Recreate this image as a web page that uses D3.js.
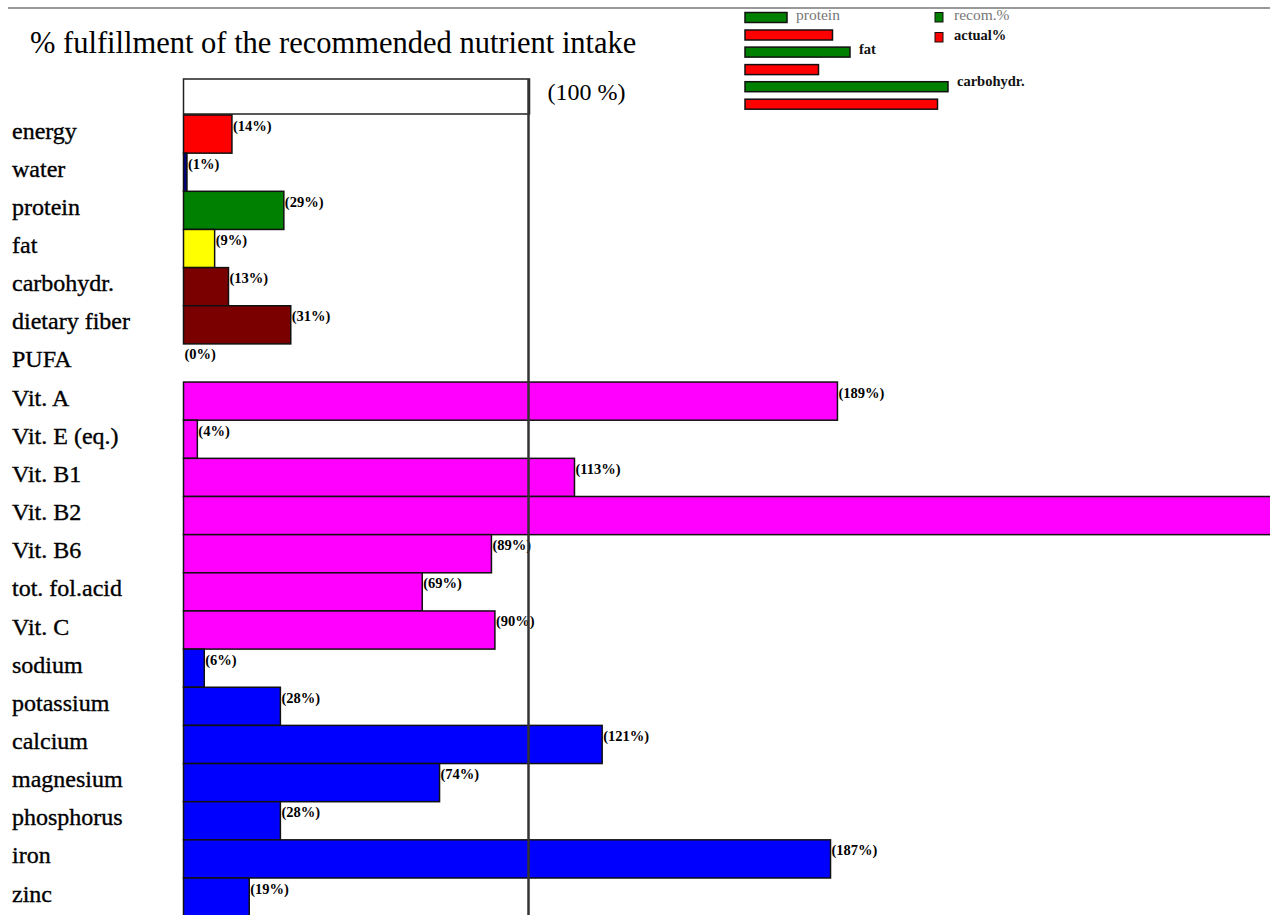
<!DOCTYPE html>
<html>
<head>
<meta charset="utf-8">
<script src="https://cdn.jsdelivr.net/npm/d3@7"></script>
<style>
  body { margin: 0; background: #fff; }
  svg { display: block; }
</style>
</head>
<body>
<div id="chart"></div>
<script>
// nutrients and % fulfillment
var nutrients = ['energy', 'water', 'protein', 'fat', 'carbohydr.', 'dietary fiber', 'PUFA',
  'Vit. A', 'Vit. E (eq.)', 'Vit. B1', 'Vit. B2', 'Vit. B6', 'tot. fol.acid', 'Vit. C',
  'sodium', 'potassium', 'calcium', 'magnesium', 'phosphorus', 'iron', 'zinc'];
var percents = [14, 1, 29, 9, 13, 31, 0, 189, 4, 113, 340, 89, 69, 90, 6, 28, 121, 74, 28, 187, 19];
var colors = ['#ff0000', '#000080', '#008000', '#ffff00', '#7a0000', '#7a0000', '#7a0000',
  '#ff00ff', '#ff00ff', '#ff00ff', '#ff00ff', '#ff00ff', '#ff00ff', '#ff00ff',
  '#0000ff', '#0000ff', '#0000ff', '#0000ff', '#0000ff', '#0000ff', '#0000ff'];

// energy distribution (share of energy, %)
var macroNames = ['protein', 'fat', 'carbohydr.'];
var macroRecom = [12, 30, 58];
var macroActual = [25, 21, 55];

var width = 1270, height = 915;
var FONT = '"Liberation Serif", "Times New Roman", serif';

var svg = d3.select('#chart').append('svg')
  .attr('width', width)
  .attr('height', height)
  .attr('font-family', FONT);

var x = d3.scaleLinear().domain([0, 100]).range([183.5, 529.5]);
var y = d3.scaleBand().domain(nutrients).range([115, 115 + nutrients.length * 38.15]).paddingInner(0);

// top rule
svg.append('line')
  .attr('x1', 8).attr('x2', width)
  .attr('y1', 8).attr('y2', 8)
  .style('stroke', '#999')
  .style('stroke-width', 2);

// title
svg.append('text')
  .attr('x', 30).attr('y', 53)
  .attr('font-family', FONT)
  .style('font-size', '30.5px')
  .text('% fulfillment of the recommended nutrient intake');

// 100% header box
svg.append('rect')
  .attr('x', x(0)).attr('y', 79)
  .attr('width', x(100) - x(0)).attr('height', 35)
  .style('fill', 'white')
  .style('stroke', '#222')
  .style('stroke-width', 1.5);

svg.append('text')
  .attr('x', x(100) + 18).attr('y', 100)
  .attr('font-family', FONT)
  .style('font-size', '24px')
  .text('(100 %)');

// row labels
svg.append('g').selectAll('text')
  .data(nutrients)
  .enter().append('text')
  .attr('x', 12)
  .attr('y', function(d) { return y(d) + y.bandwidth() / 2 + 4.5; })
  .attr('font-family', FONT)
  .style('font-size', '24px')
  .style('stroke', '#000')
  .style('stroke-width', 0.35)
  .text(function(d) { return d; });

// bars
var rows = svg.append('g').selectAll('g')
  .data(nutrients)
  .enter().append('g');

rows.filter(function(d, i) { return percents[i] > 0; })
  .append('rect')
  .attr('x', x(0))
  .attr('y', function(d) { return y(d); })
  .attr('width', function(d) { return x(percents[nutrients.indexOf(d)]) - x(0); })
  .attr('height', y.bandwidth())
  .style('fill', function(d) { return colors[nutrients.indexOf(d)]; })
  .style('stroke', '#111')
  .style('stroke-width', 1.5);

// value labels (the ones past the page edge are not shown)
rows.filter(function(d, i) { return x(percents[i]) < width - 40; })
  .append('text')
  .attr('x', function(d) { return x(percents[nutrients.indexOf(d)]) + 1; })
  .attr('y', function(d) { return y(d) + 15.5; })
  .attr('font-family', FONT)
  .style('font-size', '14.5px')
  .style('font-weight', 'bold')
  .text(function(d) { return '(' + percents[nutrients.indexOf(d)] + '%)'; });

// 100% line
svg.append('line')
  .attr('x1', x(100) - 1).attr('x2', x(100) - 1)
  .attr('y1', 79).attr('y2', height)
  .style('stroke', '#333')
  .style('stroke-width', 2.5);

// energy distribution legend
var lx = d3.scaleLinear().domain([0, 100]).range([745, 1095]);
var legend = svg.append('g');

macroNames.forEach(function(name, i) {
  var top = 12.5 + i * 34.6;
  legend.append('rect')
    .attr('x', lx(0)).attr('y', top)
    .attr('width', lx(macroRecom[i]) - lx(0)).attr('height', 10)
    .style('fill', '#008000').style('stroke', '#111').style('stroke-width', 1.5);
  legend.append('rect')
    .attr('x', lx(0)).attr('y', top + 17.5)
    .attr('width', lx(macroActual[i]) - lx(0)).attr('height', 10)
    .style('fill', '#ff0000').style('stroke', '#111').style('stroke-width', 1.5);
  legend.append('text')
    .attr('x', lx(macroRecom[i]) + 9).attr('y', top + (i === 2 ? 4 : 7))
    .attr('font-family', FONT)
    .style('font-size', i === 0 ? '15.5px' : '14.5px')
    .style('font-weight', i === 0 ? 'normal' : 'bold')
    .style('fill', i === 0 ? '#777' : '#111')
    .text(name);
});

var keys = [['recom.%', '#008000', '#777', 'normal'], ['actual%', '#ff0000', '#111', 'bold']];
keys.forEach(function(k, i) {
  legend.append('rect')
    .attr('x', 935).attr('y', 12.5 + i * 20)
    .attr('width', 8).attr('height', 9.5)
    .style('fill', k[1]).style('stroke', '#111').style('stroke-width', 1);
  legend.append('text')
    .attr('x', 954).attr('y', 20 + i * 20)
    .attr('font-family', FONT)
    .style('font-size', i === 0 ? '15.5px' : '14.5px')
    .style('fill', k[2])
    .style('font-weight', k[3])
    .text(k[0]);
});
</script>
</body>
</html>
